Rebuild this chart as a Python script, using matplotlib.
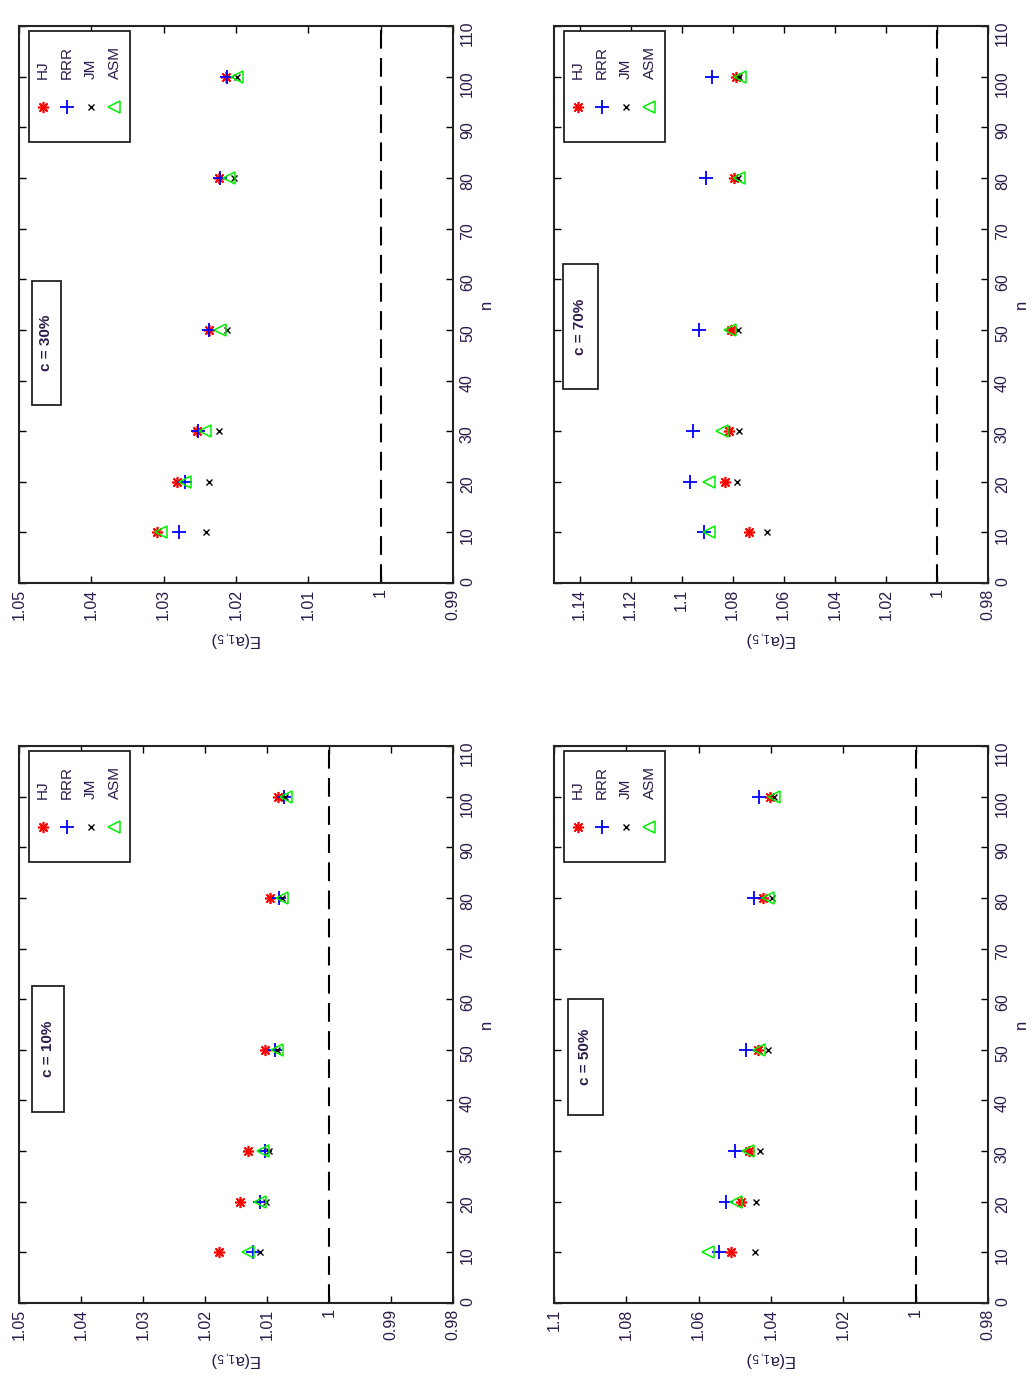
import matplotlib
matplotlib.use("Agg")
import matplotlib.pyplot as plt
from matplotlib.patches import Rectangle

plt.rcParams['font.family'] = ['Liberation Sans', 'DejaVu Sans']
plt.rcParams['mathtext.fontset'] = 'custom'
plt.rcParams['mathtext.rm'] = 'Liberation Sans'
plt.rcParams['mathtext.it'] = 'Liberation Sans'

TXT = '#2a1a4a'

# sample sizes
n_vals = [10, 20, 30, 50, 80, 100]
n_ticks = [0, 10, 20, 30, 40, 50, 60, 70, 80, 90, 100, 110]

# E(a_1,5) for each estimator, c = 10 %
hj_10 = [1.0178, 1.0144, 1.0130, 1.0104, 1.0095, 1.0083]
rrr_10 = [1.0122, 1.0111, 1.0104, 1.0087, 1.0080, 1.0072]
jm_10 = [1.0112, 1.0102, 1.0097, 1.0084, 1.0076, 1.0071]
asm_10 = [1.0130, 1.0112, 1.0106, 1.0084, 1.0076, 1.0070]

# c = 30 %
hj_30 = [1.0309, 1.0281, 1.0254, 1.0237, 1.0224, 1.0214]
rrr_30 = [1.0279, 1.0271, 1.0253, 1.0237, 1.0222, 1.0213]
jm_30 = [1.0242, 1.0238, 1.0223, 1.0212, 1.0203, 1.0198]
asm_30 = [1.0304, 1.0270, 1.0243, 1.0222, 1.0209, 1.0199]

# c = 50 %
hj_50 = [1.0511, 1.0483, 1.0462, 1.0435, 1.0421, 1.0404]
rrr_50 = [1.0543, 1.0523, 1.0499, 1.0469, 1.0448, 1.0434]
jm_50 = [1.0444, 1.0442, 1.0429, 1.0409, 1.0398, 1.0391]
asm_50 = [1.0574, 1.0497, 1.0464, 1.0432, 1.0407, 1.0391]

# c = 70 %
hj_70 = [1.0737, 1.0829, 1.0816, 1.0808, 1.0796, 1.0786]
rrr_70 = [1.0911, 1.0966, 1.0955, 1.0931, 1.0904, 1.0881]
jm_70 = [1.0665, 1.0783, 1.0776, 1.0780, 1.0779, 1.0776]
asm_70 = [1.0891, 1.0894, 1.0842, 1.0809, 1.0776, 1.0770]

# E axis ticks per panel
e_ticks_10 = [1.05, 1.04, 1.03, 1.02, 1.01, 1.0, 0.99, 0.98]
e_labels_10 = ['1.05', '1.04', '1.03', '1.02', '1.01', '1', '0.99', '0.98']
e_ticks_30 = [1.05, 1.04, 1.03, 1.02, 1.01, 1.0, 0.99]
e_labels_30 = ['1.05', '1.04', '1.03', '1.02', '1.01', '1', '0.99']
e_ticks_50 = [1.1, 1.08, 1.06, 1.04, 1.02, 1.0, 0.98]
e_labels_50 = ['1.1', '1.08', '1.06', '1.04', '1.02', '1', '0.98']
e_ticks_70 = [1.14, 1.12, 1.1, 1.08, 1.06, 1.04, 1.02, 1.0, 0.98]
e_labels_70 = ['1.14', '1.12', '1.1', '1.08', '1.06', '1.04', '1.02', '1', '0.98']

names = ['HJ', 'RRR', 'JM', 'ASM']
styles = [
    dict(marker=(8, 2, 0), color='#ff0000', ms=8, mew=1.2),
    dict(marker='+', color='#0000ff', ms=10, mew=1.3),
    dict(marker='x', color='black', ms=4, mew=1.0),
    dict(marker='<', color='#00ee00', mfc='none', ms=9, mew=1.1),
]

panels = [
    # (fig position, label, xlim, ticks, ticklabels, series, label box in axes coords)
    ([0.0184, 0.0558, 0.4201, 0.4036], 'c = 10%', (1.05, 0.98), e_ticks_10, e_labels_10,
     [hj_10, rrr_10, jm_10, asm_10], (0.030, 0.343, 0.074, 0.226)),
    ([0.0184, 0.5775, 0.4201, 0.4036], 'c = 30%', (1.05, 0.99), e_ticks_30, e_labels_30,
     [hj_30, rrr_30, jm_30, asm_30], (0.030, 0.320, 0.066, 0.222)),
    ([0.5363, 0.0558, 0.4201, 0.4036], 'c = 50%', (1.10, 0.98), e_ticks_50, e_labels_50,
     [hj_50, rrr_50, jm_50, asm_50], (0.032, 0.338, 0.081, 0.208)),
    ([0.5363, 0.5775, 0.4201, 0.4036], 'c = 70%', (1.15, 0.98), e_ticks_70, e_labels_70,
     [hj_70, rrr_70, jm_70, asm_70], (0.021, 0.348, 0.080, 0.225)),
]

fig = plt.figure(figsize=(10.33, 13.8), dpi=100)

for pos, clabel, xlim, ticks, ticklabels, series, cbox in panels:
    ax = fig.add_axes(pos)
    for vals, st in zip(series, styles):
        ax.plot(vals, n_vals, ls='none', **st)
    ax.axvline(1.0, color='black', ls=(0, (9, 4.5)), lw=1.5)

    ax.set_xlim(*xlim)
    ax.set_ylim(0, 110)
    ax.set_xticks(ticks)
    ax.set_xticklabels(ticklabels, rotation=90, color=TXT, fontsize=11.5)
    ax.set_yticks(n_ticks)
    ax.set_yticklabels([str(t) for t in n_ticks], rotation=90, color=TXT, fontsize=11.5)
    ax.yaxis.tick_right()
    ax.tick_params(direction='in', top=True, bottom=True, left=True, right=True,
                   length=5, width=1.0, pad=4)
    ax.tick_params(axis='y', labelleft=False, labelright=True, pad=5)
    for sp in ax.spines.values():
        sp.set_linewidth(1.5)
        sp.set_color('#222222')

    ax.set_xlabel(r'E(a$_{1,5}$)', rotation=180, fontsize=12, color=TXT, labelpad=6)
    ax.yaxis.set_label_position('right')
    ax.set_ylabel('n', rotation=90, fontsize=12, color=TXT, labelpad=3)

    # legend drawn sideways
    ax.add_patch(Rectangle((0.024, 0.792), 0.232, 0.199, transform=ax.transAxes,
                           fc='white', ec='#222222', lw=1.3, zorder=5))
    for i, (nm, st) in enumerate(zip(names, styles)):
        xc = 0.055 + i * 0.055
        ax.plot([xc], [0.855], transform=ax.transAxes, ls='none', zorder=6,
                clip_on=False, **st)
        ax.text(xc, 0.905, nm, transform=ax.transAxes, rotation=90, ha='center',
                va='bottom', fontsize=11, color=TXT, zorder=6)

    # label box for c
    bx, by, bw, bh = cbox
    ax.add_patch(Rectangle((bx, by), bw, bh, transform=ax.transAxes,
                           fc='white', ec='#222222', lw=1.3, zorder=5))
    ax.text(bx + bw / 2, by + bh / 2, clabel, transform=ax.transAxes, rotation=90,
            ha='center', va='center', fontsize=11, fontweight='bold', color=TXT, zorder=6)

fig.savefig('out.png', dpi=100, facecolor='white')
